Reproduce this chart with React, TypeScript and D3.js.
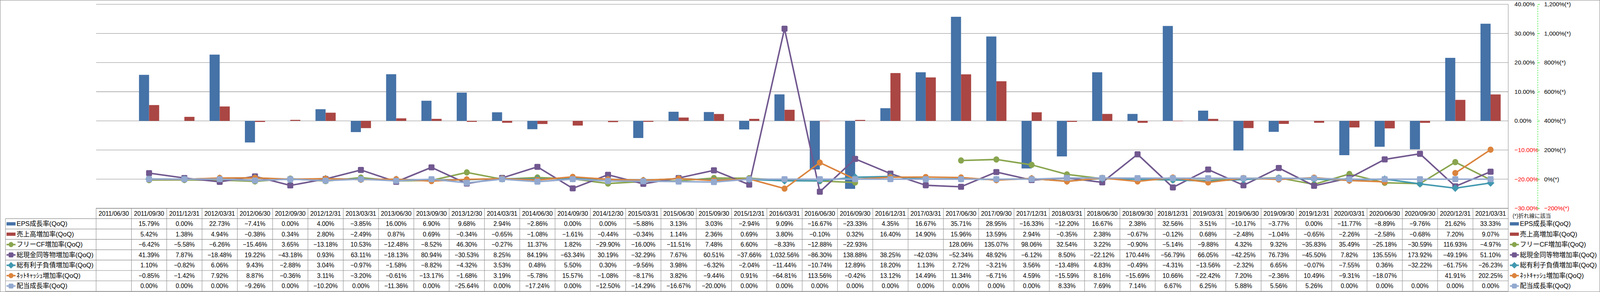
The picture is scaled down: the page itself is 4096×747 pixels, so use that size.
import { useRef, useEffect } from 'react';
import * as d3 from 'd3';

// 四半期
const dates = [
  '2011/06/30', '2011/09/30', '2011/12/31', '2012/03/31', '2012/06/30', '2012/09/30', '2012/12/31', '2013/03/31',
  '2013/06/30', '2013/09/30', '2013/12/30', '2014/03/31', '2014/06/30', '2014/09/30', '2014/12/30', '2015/03/31',
  '2015/06/30', '2015/09/30', '2015/12/31', '2016/03/31', '2016/06/30', '2016/09/30', '2016/12/31', '2017/03/31',
  '2017/06/30', '2017/09/30', '2017/12/31', '2018/03/31', '2018/06/30', '2018/09/30', '2018/12/31', '2019/03/31',
  '2019/06/30', '2019/09/30', '2019/12/31', '2020/03/31', '2020/06/30', '2020/09/30', '2020/12/31', '2021/03/31',
];

// 棒グラフ (左軸)
const epsGrowth = [
  null, 15.79, 0.00, 22.73, -7.41, 0.00, 4.00, -3.85, 16.00, 6.90, 9.68, 2.94, -2.86, 0.00, 0.00, -5.88,
  3.13, 3.03, -2.94, 9.09, -16.67, -23.33, 4.35, 16.67, 35.71, 28.95, -16.33, -12.20, 16.67, 2.38, 32.56, 3.51,
  -10.17, -3.77, 0.00, -11.77, -8.89, -9.76, 21.62, 33.33,
];
const salesGrowth = [
  null, 5.42, 1.38, 4.94, -0.38, 0.34, 2.80, -2.49, 0.87, 0.69, -0.34, -0.65, -1.08, -1.61, -0.44, -0.34,
  1.14, 2.36, 0.69, 3.80, -0.10, 0.32, 16.40, 14.90, 15.96, 13.59, 2.94, -0.35, 2.38, -0.67, -0.12, 0.68,
  -2.48, -1.04, -0.65, -2.26, -2.58, -0.68, 7.20, 9.07,
];

// 折れ線 (右軸)
const fcfGrowth = [
  null, -6.42, -5.58, -6.26, -15.46, 3.65, -13.18, 10.53, -12.48, -8.52, 46.30, -0.27, 11.37, 1.82, -29.90, -16.00,
  -11.51, 7.48, 6.60, -8.33, -12.88, -22.93, null, null, 128.06, 135.07, 98.06, 32.54, 3.22, -0.90, -5.14, -9.88,
  4.32, 9.32, -35.83, 35.49, -25.18, -30.59, 116.93, -4.97,
];
const cashGrowth = [
  null, 41.39, 7.87, -18.48, 19.22, -43.18, 0.93, 63.11, -18.13, 80.94, -30.53, 8.25, 84.19, -63.34, 30.19, -32.29,
  7.67, 60.51, -37.66, 1032.56, -86.30, 138.88, 38.25, -42.03, -52.34, 48.92, -6.12, 8.50, -22.12, 170.44, -56.79, 66.05,
  -42.25, 76.73, -45.50, 7.82, 135.55, 173.92, -49.19, 51.10,
];
const debtGrowth = [
  null, 1.10, -0.82, 6.06, 9.43, -2.88, 3.04, -0.97, -1.58, -8.82, -4.32, 3.53, 0.48, 5.50, 0.30, -9.56,
  3.98, -6.32, -2.04, -11.44, -10.74, 12.89, 18.20, 1.13, 2.72, -3.21, 3.56, -13.48, 4.83, -0.49, -4.31, -13.56,
  -2.32, 6.65, -0.07, -7.55, 0.36, -32.22, -61.75, -26.23,
];
const netCashGrowth = [
  null, -0.85, -1.42, 7.92, 8.87, -0.36, 3.11, -3.20, -0.61, -13.17, -1.68, 3.19, -5.78, 15.57, -1.08, -8.17,
  3.82, -9.44, 0.91, -64.81, 113.56, -0.42, 13.12, 14.49, 11.34, -6.71, 4.59, -15.59, 8.16, -15.69, 10.66, -22.42,
  7.20, -2.36, 10.49, -9.31, -18.07, null, 41.91, 202.25,
];
const dividendGrowth = [
  null, 0.00, 0.00, 0.00, -9.26, 0.00, -10.20, 0.00, -11.36, 0.00, -25.64, 0.00, -17.24, 0.00, -12.50, -14.29,
  -16.67, -20.00, 0.00, 0.00, 0.00, 0.00, 0.00, 0.00, 0.00, 0.00, 0.00, 8.33, 7.69, 7.14, 6.67, 6.25,
  5.88, 5.56, 5.26, 0.00, 0.00, 0.00, 0.00, 0.00,
];

const seriesNames = [
  'EPS成長率(QoQ)', '売上高増加率(QoQ)', 'フリーCF増加率(QoQ)', '総現金同等物増加率(QoQ)',
  '総有利子負債増加率(QoQ)', 'ﾈｯﾄｷｬｯｼｭ増加率(QoQ)', '配当成長率(QoQ)',
];
const leftTicks = [-30, -20, -10, 0, 10, 20, 30, 40];
const rightTicks = [-200, 0, 200, 400, 600, 800, 1000, 1200];

type Val = number | null;
type Marker = 'rect' | 'circle' | 'square' | 'diamond';

const W = 5876, H = 1071;

export default function App() {
  const svgRef = useRef<SVGSVGElement | null>(null);

  useEffect(() => {
    const svg = d3.select(svgRef.current);
    svg.selectAll('*').remove();

    const font = '"Liberation Sans", "Noto Sans CJK JP", sans-serif';
    const gridColor = '#878787';
    const plot = { left: 353, right: 5539, top: 15.7, bottom: 764 };
    const headerH = 38, rowH = 38;
    const tableTop = plot.bottom;
    const rowsTop = tableTop + headerH;

    const allSeries: { values: Val[]; color: string; marker: Marker }[] = [
      { values: epsGrowth, color: '#4572A7', marker: 'rect' },
      { values: salesGrowth, color: '#AA4643', marker: 'rect' },
      { values: fcfGrowth, color: '#89A54E', marker: 'circle' },
      { values: cashGrowth, color: '#71588F', marker: 'square' },
      { values: debtGrowth, color: '#4198AF', marker: 'diamond' },
      { values: netCashGrowth, color: '#DB843D', marker: 'circle' },
      { values: dividendGrowth, color: '#93A9CF', marker: 'square' },
    ];

    const x = d3.scaleBand<string>().domain(dates).range([plot.left, plot.right]);
    const bw = x.bandwidth();
    const xSub = d3.scaleBand<string>().domain(['eps', 'sales']).range([0, bw]).paddingInner(0).paddingOuter(0.75);
    const yL = d3.scaleLinear().domain([-30, 40]).range([plot.bottom, plot.top]);
    const yR = d3.scaleLinear().domain([-200, 1200]).range([plot.bottom, plot.top]);
    const cx = (i: number) => (x(dates[i]) ?? 0) + bw / 2;

    // 外枠
    svg.append('rect')
      .attr('x', 0.75).attr('y', 0.75)
      .attr('width', W - 1.5).attr('height', H - 1.5)
      .attr('fill', '#fff').attr('stroke', gridColor).attr('stroke-width', 1.5);

    // グリッド線
    svg.append('g').selectAll('line').data(leftTicks).join('line')
      .attr('x1', plot.left).attr('x2', plot.right)
      .attr('y1', d => yL(d)).attr('y2', d => yL(d))
      .attr('stroke', gridColor).attr('stroke-width', 1.5);

    // 棒
    const barG = svg.append('g');
    [['eps', epsGrowth, allSeries[0].color], ['sales', salesGrowth, allSeries[1].color]].forEach(([key, vals, color]) => {
      (vals as Val[]).forEach((v, i) => {
        if (v == null) return;
        barG.append('rect')
          .attr('x', (x(dates[i]) ?? 0) + (xSub(key as string) ?? 0))
          .attr('y', Math.min(yL(v), yL(0)))
          .attr('width', xSub.bandwidth())
          .attr('height', Math.abs(yL(v) - yL(0)))
          .attr('fill', color as string);
      });
    });

    // マーカー描画
    const drawMarker = (g: d3.Selection<SVGGElement, unknown, null, undefined>, type: Marker, mx: number, my: number, color: string, size = 22) => {
      const h = size / 2;
      if (type === 'circle') {
        g.append('ellipse').attr('cx', mx).attr('cy', my).attr('rx', h).attr('ry', h + 0.5).attr('fill', color);
      } else if (type === 'square') {
        g.append('rect').attr('x', mx - h).attr('y', my - h).attr('width', size).attr('height', size)
          .attr('rx', 4).attr('fill', color);
      } else if (type === 'diamond') {
        const d = h + 3;
        g.append('path').attr('d', `M${mx},${my - d}L${mx + d},${my}L${mx},${my + d}L${mx - d},${my}Z`).attr('fill', color);
      }
    };

    // 折れ線
    const lineGen = d3.line<Val>()
      .defined(v => v != null)
      .x((_, i) => cx(i))
      .y(v => yR(v as number));
    allSeries.slice(2).forEach(s => {
      const g = svg.append('g');
      g.append('path')
        .datum(s.values)
        .attr('d', lineGen)
        .attr('fill', 'none')
        .attr('stroke', s.color)
        .attr('stroke-width', 5.5)
        .attr('stroke-linejoin', 'round');
      s.values.forEach((v, i) => {
        if (v == null) return;
        drawMarker(g, s.marker, cx(i), yR(v), s.color);
      });
    });

    // 縦線 (プロット右端〜表の下端)
    svg.append('line')
      .attr('x1', plot.right).attr('x2', plot.right)
      .attr('y1', plot.top).attr('y2', rowsTop + rowH * 7)
      .attr('stroke', gridColor).attr('stroke-width', 1.5);

    // 主軸 (右側)
    const axisL = svg.append('g')
      .attr('transform', `translate(${plot.right},0)`)
      .call(d3.axisRight(yL).tickValues(leftTicks).tickSize(0).tickPadding(23)
        .tickFormat(d => d3.format('.2f')(d as number) + '%'));
    axisL.select('.domain').remove();
    axisL.attr('font-family', font).attr('font-size', 22);
    axisL.selectAll<SVGTextElement, number>('text').attr('fill', d => (d < 0 ? '#ff0000' : '#000'));

    // 第2軸
    const axisR = svg.append('g')
      .attr('transform', 'translate(5647,0)')
      .call(d3.axisRight(yR).tickValues(rightTicks).tickSize(8).tickSizeOuter(0).tickPadding(16)
        .tickFormat(d => d3.format(',')(d as number) + '%(*)'));
    axisR.select('.domain').attr('stroke', '#00e000').attr('stroke-width', 1.5).attr('stroke-dasharray', '5,4');
    axisR.selectAll('.tick line').attr('stroke', '#00e000').attr('stroke-width', 1.5);
    axisR.attr('font-family', font).attr('font-size', 22);
    axisR.selectAll<SVGTextElement, number>('text').attr('fill', d => (d < 0 ? '#ff0000' : '#000'));

    // データテーブル
    const tbl = svg.append('g').attr('font-family', font).attr('font-size', 22.5);
    const lineAttr = (sel: d3.Selection<SVGLineElement, unknown, null, undefined>) =>
      sel.attr('stroke', gridColor).attr('stroke-width', 1.5);
    const tableBottom = rowsTop + rowH * 7;
    lineAttr(tbl.append('line').attr('x1', plot.left).attr('x2', plot.right).attr('y1', tableTop).attr('y2', tableTop));
    for (let r = 0; r <= 7; r++) {
      const yy = rowsTop + rowH * r;
      lineAttr(tbl.append('line').attr('x1', 20).attr('x2', plot.right).attr('y1', yy).attr('y2', yy));
    }
    lineAttr(tbl.append('line').attr('x1', 20).attr('x2', 20).attr('y1', rowsTop).attr('y2', tableBottom));
    dates.forEach(d => {
      const x0 = x(d) ?? 0;
      lineAttr(tbl.append('line').attr('x1', x0).attr('x2', x0).attr('y1', tableTop).attr('y2', tableBottom));
    });
    tbl.selectAll('text.hdr').data(dates).join('text')
      .attr('class', 'hdr')
      .attr('x', d => (x(d) ?? 0) + bw / 2)
      .attr('y', tableTop + headerH / 2)
      .attr('dominant-baseline', 'central')
      .attr('text-anchor', 'middle')
      .attr('fill', '#000')
      .text(d => d);
    const fmt = d3.format(',.2f');
    allSeries.forEach((s, r) => {
      const cy = rowsTop + rowH * r + rowH / 2;
      s.values.forEach((v, i) => {
        if (v == null) return;
        tbl.append('text')
          .attr('x', cx(i)).attr('y', cy)
          .attr('dominant-baseline', 'central')
          .attr('text-anchor', 'middle')
          .attr('fill', '#000')
          .text(fmt(v) + '%');
      });
    });

    // 凡例キー (左の表 / 右側)
    const drawKey = (g: d3.Selection<SVGGElement, unknown, null, undefined>, x0: number, x1: number, cy: number, s: { color: string; marker: Marker }) => {
      if (s.marker === 'rect') {
        g.append('rect').attr('x', x0).attr('y', cy - 6).attr('width', x1 - x0).attr('height', 12).attr('fill', s.color);
      } else {
        g.append('line').attr('x1', x0).attr('x2', x1).attr('y1', cy).attr('y2', cy)
          .attr('stroke', s.color).attr('stroke-width', 5.5);
        drawMarker(g, s.marker, (x0 + x1) / 2, cy, s.color, 18);
      }
    };
    const keys = svg.append('g').attr('font-family', font).attr('font-size', 24);
    allSeries.forEach((s, r) => {
      const cy = rowsTop + rowH * r + rowH / 2;
      drawKey(keys, 24, 57, cy, s);
      keys.append('text').attr('x', 61).attr('y', cy).attr('dominant-baseline', 'central').attr('fill', '#000')
        .text(seriesNames[r]);
      drawKey(keys, 5545, 5578, cy, s);
      keys.append('text').attr('x', 5582).attr('y', cy).attr('dominant-baseline', 'central').attr('fill', '#000')
        .text(seriesNames[r]);
    });

    svg.append('text')
      .attr('x', 5555).attr('y', 792)
      .attr('dominant-baseline', 'central')
      .attr('font-family', font).attr('font-size', 20)
      .attr('fill', '#222')
      .text('(*)折れ線に該当');
  }, []);

  return (
    <svg
      ref={svgRef}
      width={4096}
      height={747}
      viewBox={`0 0 ${W} ${H}`}
      preserveAspectRatio="none"
      style={{ position: 'absolute', left: 0, top: 0, display: 'block', background: '#fff' }}
    />
  );
}
